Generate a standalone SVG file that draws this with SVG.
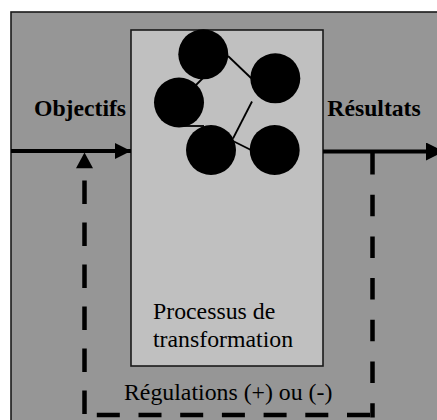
<svg xmlns="http://www.w3.org/2000/svg" width="437" height="420" viewBox="0 0 437 420">
  <style>
    .label { font-family: "Liberation Serif", "Times New Roman", serif; fill: #000; }
    .bold { font-weight: bold; font-size: 23.7px; }
    .plain { font-size: 23.8px; }
    .flow { stroke: #000; stroke-width: 4; fill: none; }
    .loop { stroke: #000; stroke-width: 4.5; fill: none; }
    .link { stroke: #000; stroke-width: 1.8; fill: none; }
    .unit { fill: #000; }
  </style>
  <defs>
    <marker id="arrow" viewBox="0 0 16 16" refX="16" refY="8" markerWidth="16" markerHeight="16" markerUnits="userSpaceOnUse" orient="auto">
      <path d="M0,0 L16,8 L0,16 Z" fill="#000"/>
    </marker>
    <marker id="arrowBig" viewBox="0 0 18 18" refX="18" refY="9" markerWidth="18" markerHeight="18" markerUnits="userSpaceOnUse" orient="auto">
      <path d="M0,0 L18,9 L0,18 Z" fill="#000"/>
    </marker>
  </defs>

  <!-- system boundary -->
  <g id="system">
    <rect x="11" y="12" width="440" height="420" fill="#969696" stroke="#1a1a1a" stroke-width="1.6"/>
  </g>

  <!-- transformation process box -->
  <g id="process">
    <rect x="131" y="30" width="192" height="336" fill="#c0c0c0" stroke="#1a1a1a" stroke-width="1.6"/>
    <text class="label plain" x="153" y="319">Processus de</text>
    <text class="label plain" x="153" y="346.5">transformation</text>
  </g>

  <!-- network of units inside the process -->
  <g id="network">
    <line class="link" x1="228" y1="56" x2="251" y2="78"/>
    <line class="link" x1="196" y1="85" x2="203" y2="78"/>
    <line class="link" x1="180" y1="126" x2="204" y2="126"/>
    <line class="link" x1="252" y1="101.5" x2="233" y2="138.5"/>
    <line class="link" x1="234" y1="141.5" x2="251" y2="150"/>
    <circle class="unit" cx="203.3" cy="54.3" r="25"/>
    <circle class="unit" cx="179" cy="102.5" r="25"/>
    <circle class="unit" cx="275.3" cy="78.3" r="25"/>
    <circle class="unit" cx="211" cy="150" r="25"/>
    <circle class="unit" cx="274.7" cy="150" r="25"/>
  </g>

  <g id="inputs">
    <text class="label bold" x="34" y="116">Objectifs</text>
  </g>

  <g id="outputs">
    <text class="label bold" x="327.3" y="116">Résultats</text>
  </g>

  <g id="regulation">
    <text class="label plain" x="124" y="399.5">Régulations (+) ou (-)</text>
  </g>

  <!-- connectors -->
  <g id="connectors">
    <line class="flow" x1="11" y1="151" x2="131" y2="151" marker-end="url(#arrow)"/>
    <line class="flow" x1="323" y1="151.5" x2="444" y2="151.5" marker-end="url(#arrowBig)"/>
    <!-- feedback loop -->
    <line class="loop" x1="372.5" y1="153" x2="372.5" y2="417.5" stroke-dasharray="21.5 20.2"/>
    <line class="loop" x1="370" y1="415" x2="96" y2="415" stroke-dasharray="23 18.7"/>
    <line class="loop" x1="84.5" y1="414" x2="84.5" y2="180" stroke-dasharray="23.5 18.5"/>
    <path d="M76,168.3 L84.5,152.5 L93,168.3 Z" fill="#000"/>
  </g>
</svg>
